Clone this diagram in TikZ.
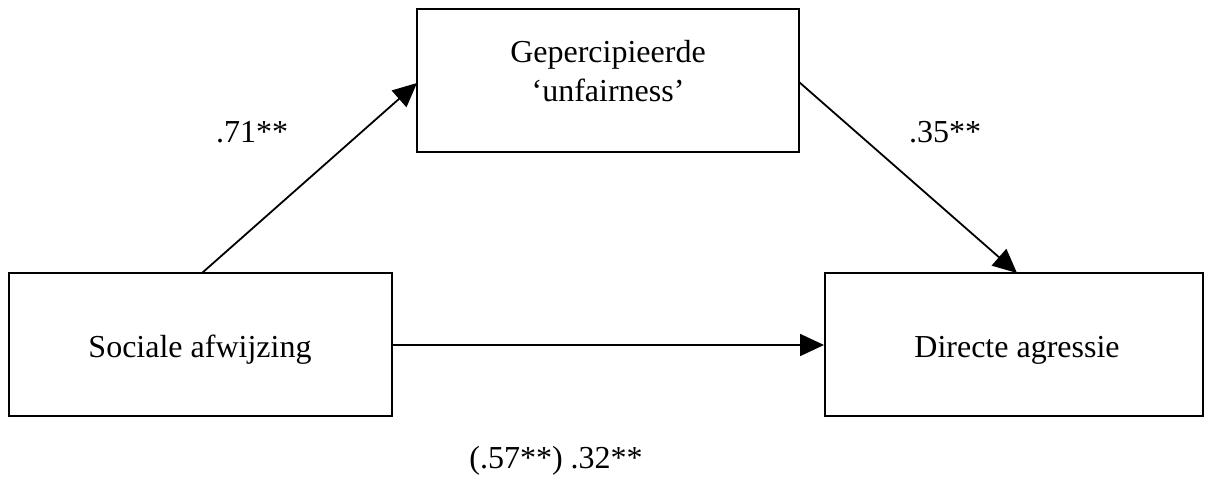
\documentclass[tikz,border=0pt]{standalone}
\usepackage{fontspec}
\setmainfont{Liberation Serif}
\usetikzlibrary{arrows.meta}
\begin{document}
\begin{tikzpicture}[x=1pt,y=-1pt,
  box/.style={draw, line width=2pt, rectangle, inner sep=0pt},
  lbl/.style={font=\fontsize{32}{36}\selectfont, inner sep=0pt},
  conn/.style={line width=1.8pt, -{Triangle[length=24pt,width=22pt]}}]
\useasboundingbox (0,0) rectangle (1206,481);
\node[box, minimum width=383pt, minimum height=143pt] (soc) at (200.5,344.5) {};
\node[box, minimum width=382pt, minimum height=143pt] (top) at (608,80.5) {};
\node[box, minimum width=378pt, minimum height=143pt] (dir) at (1014,344.5) {};
\node[lbl] (soct) at (200,350) {Sociale afwijzing};
\node[lbl] (dirt) at (1017,350) {Directe agressie};
\node[lbl] (topt1) at (608,55) {Gepercipieerde};
\node[lbl] (topt2) at (608,90) {‘unfairness’};
\coordinate (a1s) at (202,273);
\coordinate (a1e) at (417,83);
\coordinate (a2s) at (799,82);
\coordinate (a2e) at (1017,273);
\draw[conn] (a1s) -- (a1e);
\draw[conn] (a2s) -- (a2e);
\draw[conn] (soc.east |- 0,345) -- (dir.west |- 0,345);
\node[lbl] (l1) at (252,132) {.71**};
\node[lbl] (l2) at (945,132) {.35**};
\node[lbl] (l3) at (556,461) {(.57**) .32**};
\end{tikzpicture}
\end{document}
